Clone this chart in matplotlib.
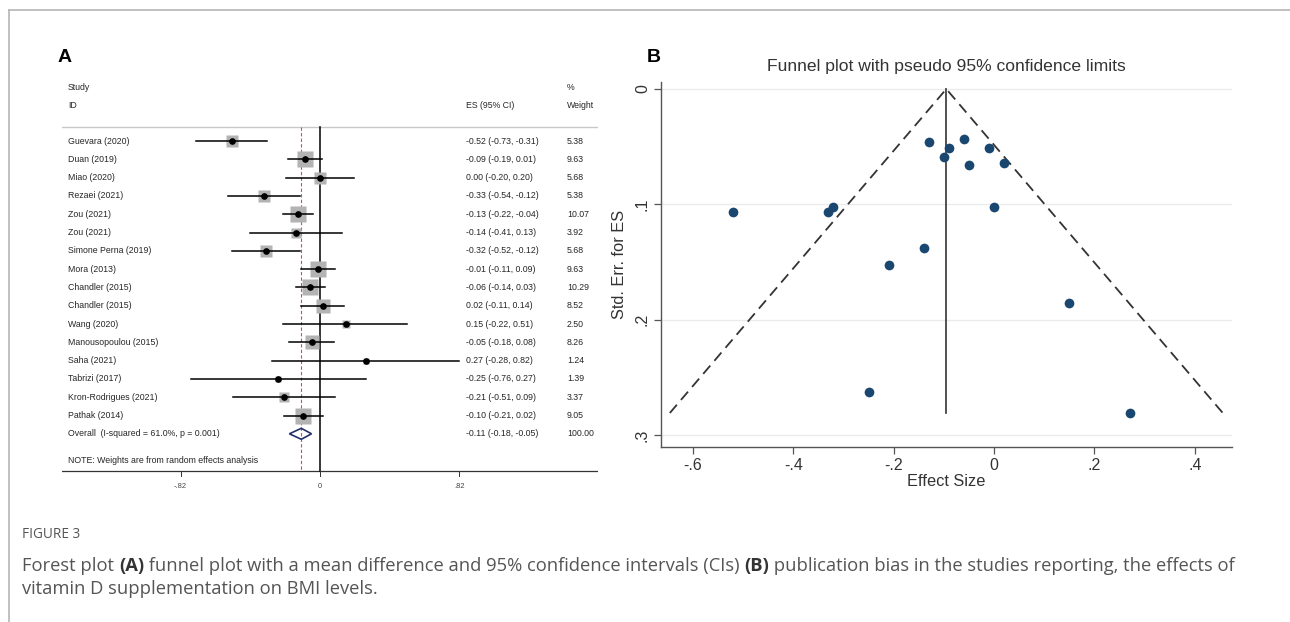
import matplotlib
matplotlib.use('Agg')
import matplotlib.pyplot as plt
from matplotlib.patches import Polygon
from matplotlib.lines import Line2D

# ---------------- data ----------------
studies = ["Guevara (2020)", "Duan (2019)", "Miao (2020)", "Rezaei (2021)", "Zou (2021)",
           "Zou (2021)", "Simone Perna (2019)", "Mora (2013)", "Chandler (2015)",
           "Chandler (2015)", "Wang (2020)", "Manousopoulou (2015)", "Saha (2021)",
           "Tabrizi (2017)", "Kron-Rodrigues (2021)", "Pathak (2014)"]
es = [-0.52, -0.09, 0.00, -0.33, -0.13, -0.14, -0.32, -0.01, -0.06, 0.02, 0.15, -0.05,
      0.27, -0.25, -0.21, -0.10]
ci_low = [-0.73, -0.19, -0.20, -0.54, -0.22, -0.41, -0.52, -0.11, -0.14, -0.11, -0.22,
          -0.18, -0.28, -0.76, -0.51, -0.21]
ci_high = [-0.31, 0.01, 0.20, -0.12, -0.04, 0.13, -0.12, 0.09, 0.03, 0.14, 0.51, 0.08,
           0.82, 0.27, 0.09, 0.02]
weights = [5.38, 9.63, 5.68, 5.38, 10.07, 3.92, 5.68, 9.63, 10.29, 8.52, 2.50, 8.26,
           1.24, 1.39, 3.37, 9.05]
es_labels = ["-0.52 (-0.73, -0.31)", "-0.09 (-0.19, 0.01)", "0.00 (-0.20, 0.20)",
             "-0.33 (-0.54, -0.12)", "-0.13 (-0.22, -0.04)", "-0.14 (-0.41, 0.13)",
             "-0.32 (-0.52, -0.12)", "-0.01 (-0.11, 0.09)", "-0.06 (-0.14, 0.03)",
             "0.02 (-0.11, 0.14)", "0.15 (-0.22, 0.51)", "-0.05 (-0.18, 0.08)",
             "0.27 (-0.28, 0.82)", "-0.25 (-0.76, 0.27)", "-0.21 (-0.51, 0.09)",
             "-0.10 (-0.21, 0.02)"]
weight_labels = ["5.38", "9.63", "5.68", "5.38", "10.07", "3.92", "5.68", "9.63", "10.29",
                 "8.52", "2.50", "8.26", "1.24", "1.39", "3.37", "9.05"]
overall_es, overall_low, overall_high = -0.11, -0.18, -0.05
overall_label = "Overall  (I-squared = 61.0%, p = 0.001)"
overall_es_label = "-0.11 (-0.18, -0.05)"
overall_weight_label = "100.00"
forest_ticks = [-0.82, 0, 0.82]
forest_tick_labels = ["-.82", "0", ".82"]

# funnel plot: effect size vs standard error
funnel_es = [-0.52, -0.09, 0.00, -0.33, -0.13, -0.14, -0.32, -0.01, -0.06, 0.02, 0.15,
             -0.05, 0.27, -0.25, -0.21, -0.10]
funnel_se = [0.107, 0.051, 0.102, 0.107, 0.046, 0.138, 0.102, 0.051, 0.043, 0.064, 0.186,
             0.066, 0.281, 0.263, 0.153, 0.059]
funnel_pooled = -0.095
funnel_se_max = 0.281
funnel_xticks = [-0.6, -0.4, -0.2, 0, 0.2, 0.4]
funnel_xtick_labels = ["-.6", "-.4", "-.2", "0", ".2", ".4"]
funnel_yticks = [0, 0.1, 0.2, 0.3]
funnel_ytick_labels = ["0", ".1", ".2", ".3"]

# ---------------- figure ----------------
W, H = 1290, 622
fig = plt.figure(figsize=(W / 100, H / 100), dpi=100)
plt.rcParams['font.family'] = ['Liberation Sans', 'DejaVu Sans']


def fx(x):
    return x / W


def fy(y):
    return 1 - y / H


# outer frame lines
fig.add_artist(Line2D([fx(9), 1.0], [fy(10), fy(10)], color='#b5b5b5', lw=1.2))
fig.add_artist(Line2D([fx(9), fx(9)], [fy(10), 0.0], color='#b5b5b5', lw=1.2))

# ---------------- forest plot (A) ----------------
px_left, px_right, px_top, px_bot = 62, 598, 75, 495
zero_px, unit_px = 320, 170.0
row0_px, row_px = 141, 18.3
ax = fig.add_axes([fx(px_left), fy(px_bot), (px_right - px_left) / W, (px_bot - px_top) / H])
xl = ((px_left - zero_px) / unit_px, (px_right - zero_px) / unit_px)
yl = ((px_bot - row0_px) / row_px, (px_top - row0_px) / row_px)
ax.set_xlim(*xl)
ax.set_ylim(*yl)
ax.axis('off')

txt_col = '#262626'
fs = 6.3
x_name = (68 - zero_px) / unit_px
x_es = (466 - zero_px) / unit_px
x_w = (567 - zero_px) / unit_px
y_header_line = (127 - row0_px) / row_px
y_axis = (471 - row0_px) / row_px

ax.text(x_name, (87 - row0_px) / row_px, "Study", fontsize=fs, color=txt_col, va='center')
ax.text(x_name, (105 - row0_px) / row_px, "ID", fontsize=fs, color=txt_col, va='center')
ax.text(x_es, (105 - row0_px) / row_px, "ES (95% CI)", fontsize=fs, color=txt_col, va='center')
ax.text(x_w, (87 - row0_px) / row_px, "%", fontsize=fs, color=txt_col, va='center')
ax.text(x_w, (105 - row0_px) / row_px, "Weight", fontsize=fs, color=txt_col, va='center')

ax.plot(xl, [y_header_line, y_header_line], color='#c8c8c8', lw=1.0)
ax.plot(xl, [y_axis, y_axis], color='#333333', lw=0.9)
ax.plot([0, 0], [y_header_line, y_axis], color='black', lw=1.1)
ax.plot([overall_es, overall_es], [y_header_line, y_axis], color='#d94a4a', lw=0.8,
        dashes=(3, 2))

for t, lab in zip(forest_ticks, forest_tick_labels):
    ax.plot([t, t], [y_axis, y_axis + 0.3], color='#333333', lw=0.7)
    ax.text(t, (486 - row0_px) / row_px, lab, fontsize=5.4, color='#444444',
            ha='center', va='center')

for i, (name, e, lo, hi, w, el, wl) in enumerate(zip(studies, es, ci_low, ci_high, weights,
                                                     es_labels, weight_labels)):
    side_px = 5.1 * w ** 0.5
    ax.plot([e], [i], marker='s', ms=side_px * 0.72, color='#b3b3b3', mec='none', zorder=2)
    ax.plot([lo, hi], [i, i], color='black', lw=1.1, zorder=3)
    ax.plot([e], [i], marker='o', ms=3.8, color='black', zorder=4)
    ax.text(x_name, i, name, fontsize=fs, color=txt_col, va='center')
    ax.text(x_es, i, el, fontsize=fs, color=txt_col, va='center')
    ax.text(x_w, i, wl, fontsize=fs, color=txt_col, va='center')

k = len(studies)
dh = 0.3
ax.add_patch(Polygon([(overall_low, k), (overall_es, k - dh), (overall_high, k),
                      (overall_es, k + dh)], closed=True, fill=False,
                     edgecolor='#23306e', lw=1.2, zorder=5))
ax.text(x_name, k, overall_label, fontsize=fs, color=txt_col, va='center')
ax.text(x_es, k, overall_es_label, fontsize=fs, color=txt_col, va='center')
ax.text(x_w, k, overall_weight_label, fontsize=fs, color=txt_col, va='center')
ax.text(x_name, (460 - row0_px) / row_px, "NOTE: Weights are from random effects analysis",
        fontsize=fs, color=txt_col, va='center')

fig.text(fx(58), fy(58), "A", fontsize=14, fontweight='bold', va='center', ha='left')
fig.text(fx(647), fy(58), "B", fontsize=14, fontweight='bold', va='center', ha='left')

# ---------------- funnel plot (B) ----------------
zero2, unit2 = 994, 502.0
y0_2, unit2y = 89, 1153.0
l2, r2, t2, b2 = 661, 1232, 82, 447
ax2 = fig.add_axes([fx(l2), fy(b2), (r2 - l2) / W, (b2 - t2) / H])
ax2.set_xlim((l2 - zero2) / unit2, (r2 - zero2) / unit2)
ax2.set_ylim((b2 - y0_2) / unit2y, (t2 - y0_2) / unit2y)
for s in ['top', 'right']:
    ax2.spines[s].set_visible(False)
for s in ['left', 'bottom']:
    ax2.spines[s].set_color('#555555')
    ax2.spines[s].set_linewidth(1.0)
for yv in funnel_yticks:
    ax2.axhline(yv, color='#ebebeb', lw=1.0, zorder=0)
ax2.set_xticks(funnel_xticks)
ax2.set_xticklabels(funnel_xtick_labels)
ax2.set_yticks(funnel_yticks)
ax2.set_yticklabels(funnel_ytick_labels, rotation=90, va='center')
ax2.tick_params(direction='out', length=5, width=0.9, color='#555555', labelsize=11.5,
                labelcolor='#333333', pad=3)
ax2.set_xlabel("Effect Size", fontsize=11.8, color='#333333', labelpad=1)
ax2.set_ylabel("Std. Err. for ES", fontsize=11.8, color='#333333', labelpad=6)

half = 1.96 * funnel_se_max
ax2.plot([funnel_pooled - half, funnel_pooled, funnel_pooled + half],
         [funnel_se_max, 0, funnel_se_max], color='#333333', lw=1.3, dashes=(6, 3.5))
ax2.plot([funnel_pooled, funnel_pooled], [0, funnel_se_max], color='#333333', lw=1.2)
ax2.plot(funnel_es, funnel_se, 'o', ms=7.0, color='#1a476f', mec='none', zorder=5)

fig.text(fx(946), fy(66), "Funnel plot with pseudo 95% confidence limits", fontsize=12.6,
         color='#333333', ha='center', va='center')

# ---------------- caption ----------------
cap_col = '#555555'
cap_font = ['Open Sans', 'DejaVu Sans']
fig.text(fx(22), fy(535), "FIGURE 3", fontsize=9.8, color=cap_col, family=cap_font,
         va='center')

renderer = fig.canvas.get_renderer()


def rich_line(x_px, y_px, pieces, size):
    x = x_px
    for text, weight in pieces:
        t = fig.text(fx(x), fy(y_px), text, fontsize=size, color=cap_col if weight == 'normal'
                     else '#333333', fontweight=weight, family=cap_font, va='center', ha='left')
        bb = t.get_window_extent(renderer=renderer)
        x += bb.width


cap_size = 13.2
rich_line(22, 566, [("Forest plot ", 'normal'), ("(A)", 'bold'),
                    (" funnel plot with a mean difference and 95% confidence intervals (CIs) ",
                     'normal'), ("(B)", 'bold'),
                    (" publication bias in the studies reporting, the effects of", 'normal')],
          cap_size)
rich_line(22, 589, [("vitamin D supplementation on BMI levels.", 'normal')], cap_size)

fig.savefig("out.png", dpi=100)
